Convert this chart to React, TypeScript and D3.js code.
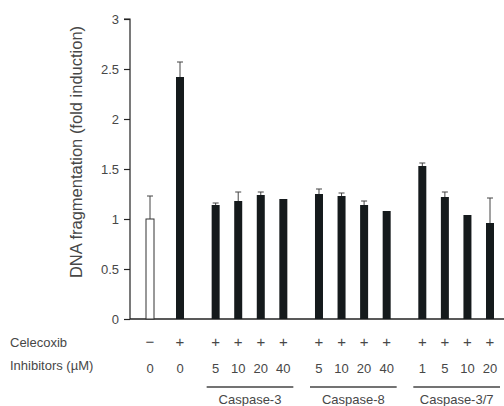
import React, { useEffect, useRef } from 'react';
import * as d3 from 'd3';

// one entry per bar, left to right
const groups = ['ctrl', 'cel', 'Caspase-3', 'Caspase-3', 'Caspase-3', 'Caspase-3', 'Caspase-8', 'Caspase-8', 'Caspase-8', 'Caspase-8', 'Caspase-3/7', 'Caspase-3/7', 'Caspase-3/7', 'Caspase-3/7'];
const celecoxib = ['−', '+', '+', '+', '+', '+', '+', '+', '+', '+', '+', '+', '+', '+'];
const doses = ['0', '0', '5', '10', '20', '40', '5', '10', '20', '40', '1', '5', '10', '20'];
const values = [1.0, 2.42, 1.14, 1.18, 1.24, 1.2, 1.25, 1.23, 1.14, 1.08, 1.53, 1.22, 1.04, 0.96];
const errors = [0.23, 0.15, 0.02, 0.09, 0.03, 0, 0.05, 0.03, 0.04, 0, 0.03, 0.05, 0, 0.25];
const inhibitorGroups = ['Caspase-3', 'Caspase-8', 'Caspase-3/7'];
const yTicks = [0, 0.5, 1, 1.5, 2, 2.5, 3];

export default function App() {
  const ref = useRef<SVGSVGElement>(null);

  useEffect(() => {
    const svg = d3.select(ref.current);
    svg.selectAll('*').remove();
    const font = '"Liberation Sans", Arial, sans-serif';
    const ink = '#474747';

    // slot positions: bar index plus a gap whenever the group changes
    let pos: number[] = [];
    let acc = 0;
    groups.forEach((g, i) => {
      if (i > 0 && g !== groups[i - 1]) acc += i === 1 ? 0.33 : 0.58;
      pos.push(i + acc);
    });

    const x = d3.scaleLinear().domain([0, pos[pos.length - 1]]).range([150, 490]);
    const y = d3.scaleLinear().domain([0, 3]).range([319, 19]);
    const barW = 8;

    // y axis
    const yAxis = svg.append('g').attr('transform', 'translate(130,0)')
      .call(d3.axisLeft(y).tickValues(yTicks).tickSize(6).tickFormat(d => String(d)));
    yAxis.select('.domain').attr('stroke', '#222').attr('stroke-width', 1.2).attr('d', `M-6,${y(3)}H0V${y(0)}`);
    yAxis.selectAll('.tick line').attr('stroke', '#222').attr('stroke-width', 1.2);
    yAxis.selectAll('.tick text').attr('font-family', font).attr('font-size', 13).attr('fill', ink).attr('x', -11);

    // baseline
    svg.append('line').attr('x1', 130).attr('x2', 504).attr('y1', y(0)).attr('y2', y(0))
      .attr('stroke', '#222').attr('stroke-width', 1.5);

    svg.append('text')
      .attr('transform', `translate(82,${(y(3) + y(0)) / 2 - 17}) rotate(-90)`)
      .attr('text-anchor', 'middle').attr('font-family', font).attr('font-size', 16.5).attr('fill', ink)
      .text('DNA fragmentation (fold induction)');

    // error bars (upward only)
    const eb = svg.append('g');
    values.forEach((v, i) => {
      if (!errors[i]) return;
      const cx = x(pos[i]);
      eb.append('line').attr('x1', cx).attr('x2', cx).attr('y1', y(v)).attr('y2', y(v + errors[i]))
        .attr('stroke', '#444').attr('stroke-width', 1);
      eb.append('line').attr('x1', cx - 3).attr('x2', cx + 3).attr('y1', y(v + errors[i])).attr('y2', y(v + errors[i]))
        .attr('stroke', '#444').attr('stroke-width', 1);
    });

    // bars
    svg.append('g').selectAll('rect').data(values).join('rect')
      .attr('x', (d, i) => x(pos[i]) - barW / 2)
      .attr('y', d => y(d))
      .attr('width', barW)
      .attr('height', d => y(0) - y(d))
      .attr('fill', (d, i) => i === 0 ? '#fff' : '#151a1c')
      .attr('stroke', (d, i) => i === 0 ? '#333' : 'none')
      .attr('stroke-width', 1);

    // row labels
    const rows = svg.append('g').attr('font-family', font).attr('font-size', 13).attr('fill', ink);
    rows.append('text').attr('x', 10).attr('y', 347).text('Celecoxib');
    rows.append('text').attr('x', 10).attr('y', 370).text('Inhibitors (µM)');
    rows.selectAll('text.sign').data(celecoxib).join('text').attr('class', 'sign')
      .attr('x', (d, i) => x(pos[i])).attr('y', 347).attr('text-anchor', 'middle')
      .attr('font-size', 15).text(d => d);
    rows.selectAll('text.dose').data(doses).join('text').attr('class', 'dose')
      .attr('x', (d, i) => x(pos[i])).attr('y', 373).attr('text-anchor', 'middle')
      .attr('font-size', 13).text(d => d);

    // inhibitor group brackets
    inhibitorGroups.forEach(g => {
      const idx = groups.map((gg, i) => gg === g ? i : -1).filter(i => i >= 0);
      const x0 = x(pos[idx[0]]) - 9;
      const x1 = x(pos[idx[idx.length - 1]]) + 10;
      rows.append('line').attr('x1', x0).attr('x2', x1).attr('y1', 387).attr('y2', 387)
        .attr('stroke', '#444').attr('stroke-width', 1.5);
      rows.append('text').attr('x', (x0 + x1) / 2).attr('y', 404).attr('text-anchor', 'middle')
        .attr('font-size', 13).text(g);
    });
  }, []);

  return <svg ref={ref} width={504} height={406} style={{ position: 'absolute', left: 0, top: 0, background: '#fff' }} />;
}
